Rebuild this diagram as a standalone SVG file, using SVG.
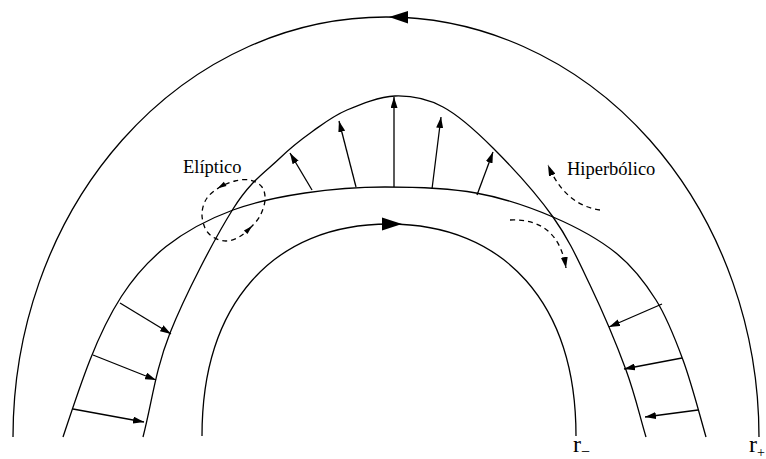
<svg xmlns="http://www.w3.org/2000/svg" width="766" height="459" viewBox="0 0 766 459">
<defs>
<style>
.c{fill:none;stroke:#000;stroke-width:1.3}
.d{fill:none;stroke:#000;stroke-width:1.3;stroke-dasharray:5 4}
.a{fill:none;stroke:#000;stroke-width:1.3;marker-end:url(#ah)}
.h{fill:#000;stroke:none}
.t{font-family:"Liberation Serif","Times New Roman",serif;fill:#000}
</style>
<marker id="ah" viewBox="0 0 11 7" refX="11" refY="3.5" markerWidth="11" markerHeight="7" orient="auto" markerUnits="userSpaceOnUse">
<path d="M0,0 L11,3.5 L0,7 z" fill="#000"/>
</marker>
</defs>
<rect width="766" height="459" fill="#fff"/>
<g id="curves">
<path id="outer" class="c" d="M13,437 A373,420 0 0 1 759,437"/>
<polygon class="h" points="389,17 408,11 408,23.5"/>
<path id="inner" class="c" d="M202,436 C202,304 273,224 389,224 C505,224 576,304 576,436"/>
<polygon class="h" points="402,224 382,217.5 382,230.5"/>
<path id="curveB" class="c" d="M63,437 C100,325 125,250 233,210 C257.8,200.8 279.7,196.8 305,193 C330.3,189.2 356.5,187 385,187 C413.5,187 448,188 476,193 C504,198 529.7,207 553,217 C576.3,227 598.8,239.2 616,253 C633.2,266.8 644.8,282.2 656,300 C667.2,317.8 674.7,337.5 683,360 C691.3,382.5 698.3,410 706,437"/>
<path id="curveA" class="c" d="M143,437 C152,402.3 155,371 170,333 C185,295 214.7,238.2 233,209 C251.3,179.8 266.7,171 280,158 C293.3,145 301.8,139 313,131 C324.2,123 333.3,115.8 347,110 C360.7,104.2 379,96.5 395,96 C411,95.5 426.7,98.3 443,107 C459.3,115.7 474.7,129.7 493,148 C511.3,166.3 536.8,194.2 553,217 C569.2,239.8 577.8,259.5 590,285 C602.2,310.5 616.7,344.7 626,370 C635.3,395.3 639.3,414.7 646,437"/>
</g>
<g id="connectors">
<line class="a" x1="312" y1="190" x2="290" y2="153"/>
<line class="a" x1="356" y1="187" x2="339" y2="121"/>
<line class="a" x1="394" y1="187" x2="394" y2="97"/>
<line class="a" x1="432" y1="189" x2="441" y2="117"/>
<line class="a" x1="477" y1="195" x2="493" y2="152"/>
<line class="a" x1="120" y1="303" x2="171" y2="334"/>
<line class="a" x1="93" y1="355" x2="156" y2="380"/>
<line class="a" x1="73" y1="409" x2="144" y2="422"/>
<line class="a" x1="662" y1="304" x2="609" y2="327"/>
<line class="a" x1="682" y1="358" x2="624" y2="369"/>
<line class="a" x1="698" y1="410" x2="645" y2="417"/>
</g>
<g id="eliptico">
<path class="d" d="M250,228 C253.5,224.5 257.5,220.7 260,216 C262.5,211.3 264.7,204.8 265,200 C265.3,195.2 264.5,190.3 262,187 C259.5,183.7 254.5,181 250,180 C245.5,179 240,179.8 235,181 C230,182.2 224.7,184.2 220,187 C215.3,189.8 210,193.7 207,198 C204,202.3 202.3,208 202,213 C201.7,218 203.2,224 205,228 C206.8,232 209.5,234.8 213,237 C216.5,239.2 221.7,241 226,241 C230.3,241 235,239.2 239,237 C243,234.8 246.5,231.5 250,228 Z"/>
<polygon class="h" points="252.1,225.9 247.5,234.1 243.9,230.5"/>
<polygon class="h" points="217.4,188.6 226.5,186.1 223.8,181.7"/>
<text class="t" x="183" y="173" font-size="18.5">Elíptico</text>
</g>
<g id="hiperbolico">
<path class="d" d="M600,210 Q565,205 548,165" marker-end="url(#ah)"/>
<path class="d" d="M510,220 Q558,218 566,268" marker-end="url(#ah)"/>
<text class="t" x="567" y="175" font-size="18.5">Hiperbólico</text>
</g>
<g id="labels">
<text class="t" x="573" y="452" font-size="24">r<tspan dy="5" font-size="16">−</tspan></text>
<text class="t" x="749" y="452" font-size="24">r<tspan dy="5" font-size="14">+</tspan></text>
</g>
</svg>
